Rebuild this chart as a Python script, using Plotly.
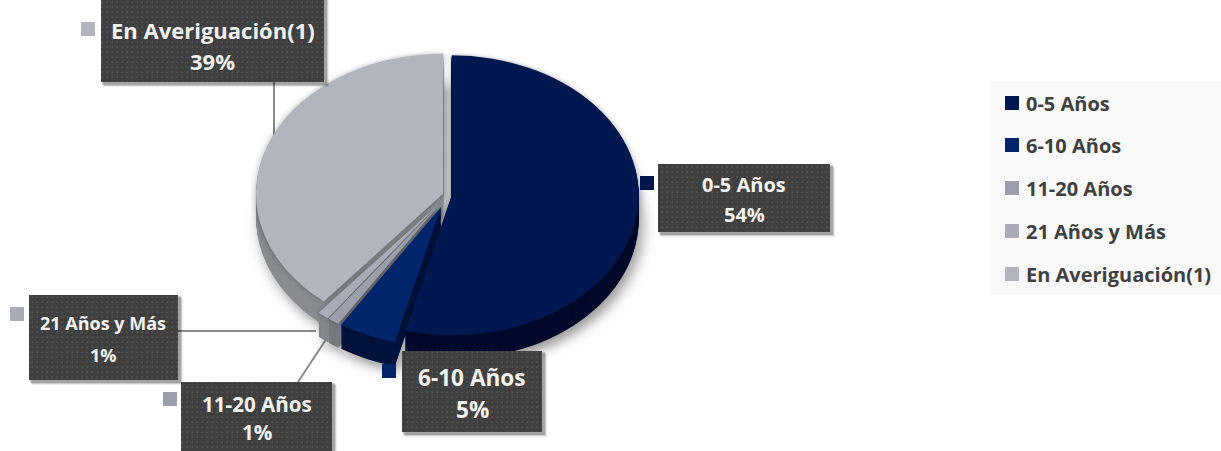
import plotly.graph_objects as go

categories = ["0-5 Años", "6-10 Años", "11-20 Años", "21 Años y Más", "En Averiguación(1)"]
values = [54, 5, 1, 1, 39]
pct_labels = ["54%", "5%", "1%", "1%", "39%"]
pulls = [0.02, 0.09, 0.09, 0.09, 0.028]
top_colors = ["#00174f", "#01246a", "#9c9eac", "#a9abb6", "#b2b5bd"]
side_colors = ["#000a2c", "#00133f", "#77787f", "#85868e", "#8b8c92"]
marker_colors = ["#00174f", "#01246a", "#9c9eac", "#a9abb6", "#b2b5bd"]

W, H = 1221, 451
CX, CY_FACE, RX, RY = 448, 195, 187, 140
K = RY / RX
PRE_CY = 208
R_DOMAIN = RX * (1 + max(pulls))
DEPTH = 24


def px(x):
    return x / W


def py(y):
    return 1 - y / H


fig = go.Figure()
layers = 24
for i in range(layers, -1, -1):
    off = (DEPTH / K) * i / layers
    c = PRE_CY + off
    fig.add_trace(go.Pie(
        labels=categories, values=values, pull=pulls, sort=False,
        direction="clockwise", rotation=0, textinfo="none", hoverinfo="label+percent",
        marker=dict(colors=top_colors if i == 0 else side_colors, line=dict(width=0)),
        domain=dict(x=[px(CX - R_DOMAIN), px(CX + R_DOMAIN)],
                    y=[py(c + R_DOMAIN), py(c - R_DOMAIN)]),
        showlegend=False,
    ))

shapes, annotations = [], []


def rect(x0, y0, x1, y1, fill, opacity=1.0):
    shapes.append(dict(type="rect", xref="paper", yref="paper", x0=px(x0), x1=px(x1),
                       y0=py(y1), y1=py(y0), fillcolor=fill, opacity=opacity,
                       line=dict(width=0), layer="above"))


def line(x0, y0, x1, y1):
    shapes.append(dict(type="line", xref="paper", yref="paper", x0=px(x0), x1=px(x1),
                       y0=py(y0), y1=py(y1), line=dict(color="#8a8a8a", width=2), layer="below"))


def text(x, y, s, size, color, anchor="center"):
    annotations.append(dict(xref="paper", yref="paper", x=px(x), y=py(y), text=s, showarrow=False,
                            xanchor=anchor, yanchor="middle",
                            font=dict(family="Open Sans", size=size, color=color, weight="bold")))


# leader lines
line(274, 82, 274, 136)
line(178, 331, 316, 331)
line(298, 382, 327, 338)

boxes = [
    (658, 164, 830, 232, 640, 176, 20, 185, 214),
    (402, 351, 542, 432, 382, 364, 22.6, 377, 409),
    (181, 382, 332, 455, 163, 392, 20.6, 404, 432),
    (29, 295, 178, 380, 10, 307, 18, 323, 355),
    (101, -3, 324, 82, 81, 22, 22, 30, 61),
]
for i, (x0, y0, x1, y1, mx, my, fs, ty0, ty1) in enumerate(boxes):
    for d, op in ((5, .08), (4, .12), (3, .2)):
        rect(x0 + d - 2, y0 + d - 2, x1 + d, y1 + d, "#000000", op)
    rect(x0, y0, x1, y1, "#404040")
    rect(mx, my, mx + 14, my + 14, marker_colors[i])
    tc = (x0 + x1) / 2
    text(tc, ty0, categories[i], fs, "#f2f2f2")
    text(tc, ty1, pct_labels[i], fs, "#f2f2f2")

# legend panel
rect(991, 81, 1221, 295, "#f9f9f9")
legend_y = [103, 145, 188, 231, 274]
for i, y in enumerate(legend_y):
    rect(1005, y - 7, 1019, y + 7, marker_colors[i])
    text(1024, y, categories[i], 20, "#404040", "left")

fig.update_layout(
    width=W, height=H, margin=dict(l=0, r=0, t=0, b=0, pad=0), autosize=False,
    paper_bgcolor="white", plot_bgcolor="white", shapes=shapes, annotations=annotations,
    showlegend=False,
)

post = f"""
document.body.style.margin='0';
var gd=document.getElementById('{{plot_id}}');
function sq(){{
  var pl=gd.querySelector('.pielayer');
  if(!pl) return;
  pl.setAttribute('transform','translate({CX},{CY_FACE}) scale(1,{K}) translate({-CX},{-PRE_CY})');
  var ts=pl.querySelectorAll('g.trace');
  if(ts.length){{
    ts[0].style.filter='drop-shadow(4px 8px 7px rgba(0,0,0,.4))';
    ts[ts.length-1].style.filter='drop-shadow(0 0 3px rgba(0,0,0,.3))';
  }}
  var svg=gd.querySelector('svg.main-svg');
  if(!document.getElementById('dots')){{
    var ns='http://www.w3.org/2000/svg';
    var p=document.createElementNS(ns,'pattern');
    p.setAttribute('id','dots');p.setAttribute('width','5');p.setAttribute('height','5');
    p.setAttribute('patternUnits','userSpaceOnUse');
    var r=document.createElementNS(ns,'rect');r.setAttribute('width','5');r.setAttribute('height','5');r.setAttribute('fill','#3f3f3f');
    var d=document.createElementNS(ns,'rect');d.setAttribute('width','1.4');d.setAttribute('height','1.4');d.setAttribute('x','1.5');d.setAttribute('y','1.5');d.setAttribute('fill','#5a5a5a');
    p.appendChild(r);p.appendChild(d);
    var defs=svg.querySelector('defs');defs.appendChild(p);
  }}
  gd.querySelectorAll('.shapelayer path').forEach(function(e){{
    if(e.style.fill==='rgb(64, 64, 64)') e.style.fill='url(#dots)';
  }});
}}
sq();
gd.on('plotly_afterplot',sq);
"""
fig.write_html("out.html", post_script=post, config=dict(displayModeBar=False))
